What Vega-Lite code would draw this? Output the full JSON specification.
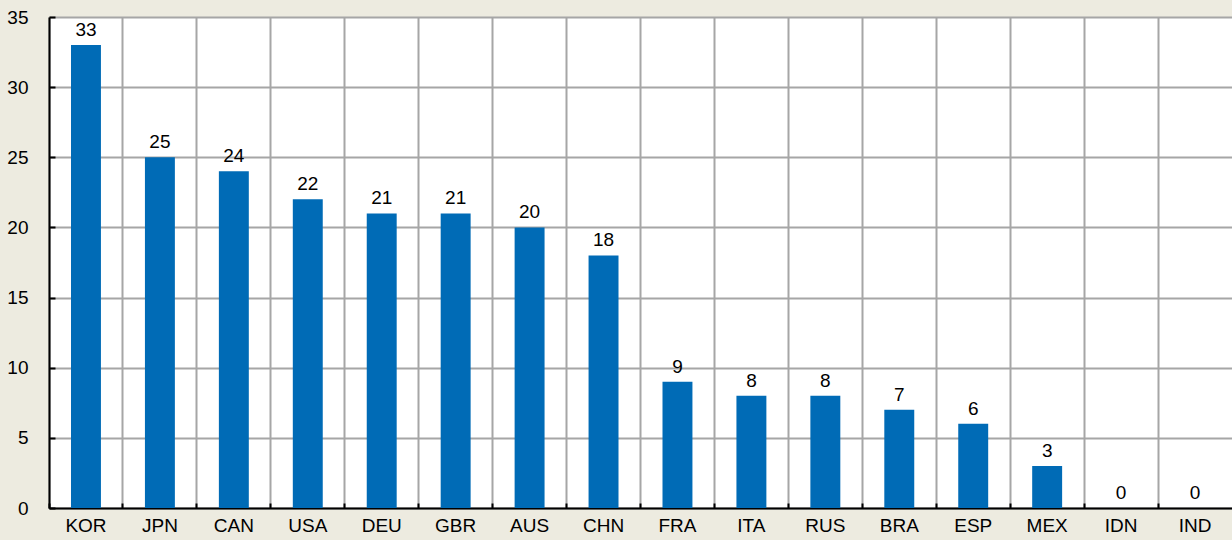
{
  "$schema": "https://vega.github.io/schema/vega-lite/v6.json",
  "width": 1183,
  "height": 491,
  "autosize": {"type": "none"},
  "padding": {"left": 49, "top": 17, "right": 0, "bottom": 32},
  "background": "#EDEBE0",
  "config": {
    "view": {"fill": "white", "stroke": null},
    "font": "Liberation Sans"
  },
  "data": {
    "values": [
      {"country": "KOR", "value": 33},
      {"country": "JPN", "value": 25},
      {"country": "CAN", "value": 24},
      {"country": "USA", "value": 22},
      {"country": "DEU", "value": 21},
      {"country": "GBR", "value": 21},
      {"country": "AUS", "value": 20},
      {"country": "CHN", "value": 18},
      {"country": "FRA", "value": 9},
      {"country": "ITA", "value": 8},
      {"country": "RUS", "value": 8},
      {"country": "BRA", "value": 7},
      {"country": "ESP", "value": 6},
      {"country": "MEX", "value": 3},
      {"country": "IDN", "value": 0},
      {"country": "IND", "value": 0}
    ]
  },
  "encoding": {
    "x": {
      "field": "country",
      "type": "nominal",
      "sort": null,
      "scale": {"paddingInner": 0, "paddingOuter": 0},
      "axis": {
        "title": null,
        "labelAngle": 0,
        "labelFontSize": 19,
        "labelColor": "#000000",
        "labelPadding": 13,
        "bandPosition": 0,
        "grid": true,
        "gridColor": "#A6A6A6",
        "gridWidth": 2,
        "tickColor": "#000000",
        "tickSize": -5,
        "tickWidth": 2,
        "domainColor": "#000000",
        "domainWidth": 2
      }
    },
    "y": {
      "field": "value",
      "type": "quantitative",
      "scale": {"domain": [0, 35], "nice": false},
      "axis": {
        "title": null,
        "values": [0, 5, 10, 15, 20, 25, 30, 35],
        "labelFontSize": 19,
        "labelColor": "#000000",
        "labelPadding": 27,
        "grid": true,
        "gridColor": "#A6A6A6",
        "gridWidth": 2,
        "tickColor": "#000000",
        "tickSize": -6,
        "tickWidth": 2,
        "domainColor": "#000000",
        "domainWidth": 2
      }
    }
  },
  "layer": [
    {"mark": {"type": "bar", "color": "#006BB6", "width": {"band": 0.405}}},
    {
      "mark": {"type": "text", "baseline": "bottom", "dy": -5, "fontSize": 19, "color": "#000000"},
      "encoding": {"text": {"field": "value", "type": "quantitative"}}
    }
  ]
}
